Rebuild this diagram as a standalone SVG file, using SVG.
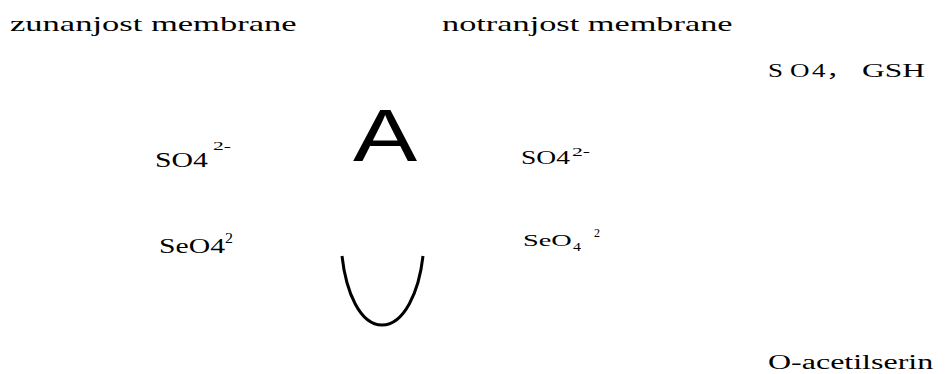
<svg xmlns="http://www.w3.org/2000/svg" width="946" height="374" viewBox="0 0 946 374">
<style>
.t{font-family:"Liberation Serif","Times New Roman",serif;fill:#000}
.s{font-family:"Liberation Sans",Arial,sans-serif;fill:#000}
</style>
<rect width="946" height="374" fill="#fff"/>
<g id="outer-membrane"><text class="t" font-size="22" transform="translate(10,31) scale(1.57,1)">zunanjost membrane</text></g>
<g id="inner-membrane"><text class="t" font-size="22" transform="translate(442,31) scale(1.56,1)">notranjost membrane</text></g>
<g id="so4-gsh"><text class="t" font-size="18" transform="translate(768,77) scale(1.5,1)"><tspan x="0">S</tspan><tspan x="14.7">O</tspan><tspan x="29.3">4</tspan><tspan x="38.7" font-family="'Liberation Serif','Noto Sans CJK SC',serif">，</tspan></text><text class="t" font-size="18" transform="translate(862,77) scale(1.75,1)">GSH</text></g>
<g id="so4-left"><text class="t" font-size="20" transform="translate(155,167) scale(1.49,1)">SO4</text><text class="t" font-size="13" transform="translate(213,150) scale(1.66,1)">2-</text></g>
<g id="label-a"><text class="s" font-size="74" transform="translate(353,161) scale(1.3,1)">A</text></g>
<g id="so4-right"><text class="t" font-size="18" transform="translate(521,164) scale(1.53,1)">SO4</text><text class="t" font-size="12" transform="translate(572,156) scale(1.8,1)">2-</text></g>
<g id="seo4-left"><text class="t" font-size="22" transform="translate(159,253) scale(1.35,1)">SeO4</text><text class="t" font-size="14" transform="translate(225,243) scale(1.14,1)">2</text></g>
<g id="seo4-right"><text class="t" font-size="17" transform="translate(523,246) scale(1.67,1)">SeO</text><text class="t" font-size="12" transform="translate(573,251) scale(1.33,1)">4</text><text class="t" font-size="12" x="594" y="237">2</text></g>
<g id="o-acetylserine"><text class="t" font-size="20" transform="translate(768,369) scale(1.6,1)">O-acetilserin</text></g>
<g id="connectors"><path d="M342,256 C346,292 360,325 382,325 C404,325 419,292 423,256" fill="none" stroke="#000" stroke-width="3"/></g>
</svg>
